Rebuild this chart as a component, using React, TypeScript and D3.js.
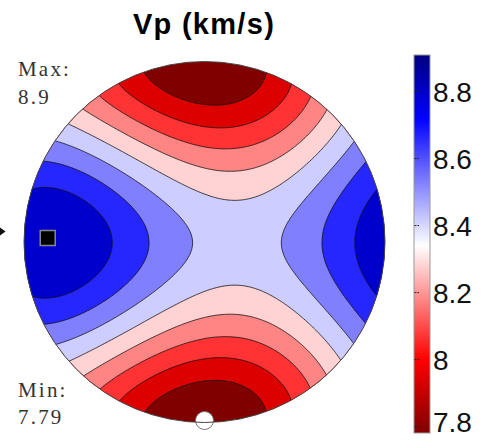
import React from "react";
import * as d3 from "d3";

// ---- data ----
const title = "Vp (km/s)";
// principal directions (polar angle from centre, azimuth in degrees) and velocities
const axisNames = ["max", "min", "mid"];
const axisTheta = [75.5, 90, 14.5];
const axisPhi = [180, 270, 0];
const axisVel = [8.9, 7.79, 8.48];
const maxValue = 8.9;
const minValue = 7.79;
// contour levels and band colours (lowest band first)
const levels = [7.913, 8.037, 8.16, 8.283, 8.407, 8.53, 8.653, 8.777];
const bandColors = ["#800000", "#dd0000", "#ff3333", "#ff8484", "#ffd3d3", "#cdcdff", "#8080ff", "#2626ff", "#0000cd"];
// colour bar
const cbStops = [7.781, 8.0, 8.34, 8.72, 8.909];
const cbColors = ["#800000", "#ff0000", "#ffffff", "#0000ff", "#000080"];
const cbTicks = [7.8, 8, 8.2, 8.4, 8.6, 8.8];

const W = 481, H = 440;
const cx = 204.5, cy = 242, R = 180.5;
const rad = Math.PI / 180;

function dir(theta: number, phi: number): number[] {
  const t = theta * rad, p = phi * rad;
  return [Math.sin(t) * Math.cos(p), Math.sin(t) * Math.sin(p), Math.cos(t)];
}
const axes = axisTheta.map((t, i) => dir(t, axisPhi[i]));

// equal-area projection: direction -> plane coords
function project(theta: number, phi: number): [number, number] {
  const r = Math.SQRT2 * Math.sin((theta * rad) / 2);
  return [cx + R * r * Math.cos(phi * rad), cy - R * r * Math.sin(phi * rad)];
}

function vel(px: number, py: number): number {
  let x = (px - cx) / R, y = -(py - cy) / R;
  let r = Math.hypot(x, y);
  if (r > 1) { x /= r; y /= r; r = 1; }
  const th = 2 * Math.asin(r / Math.SQRT2);
  const ph = Math.atan2(y, x);
  const n = [Math.sin(th) * Math.cos(ph), Math.sin(th) * Math.sin(ph), Math.cos(th)];
  let v = 0;
  axes.forEach((a, i) => {
    const d = n[0] * a[0] + n[1] * a[1] + n[2] * a[2];
    v += axisVel[i] * d * d;
  });
  return v;
}

export default function App() {
  const step = 1.5;
  const x0 = cx - R - 6, y0 = cy - R - 6;
  const nx = Math.ceil((2 * R + 12) / step) + 1;
  const ny = nx;
  const values: number[] = new Array(nx * ny);
  for (let j = 0; j < ny; j++)
    for (let i = 0; i < nx; i++) values[j * nx + i] = vel(x0 + i * step, y0 + j * step);

  const contours = d3.contours().size([nx, ny]).thresholds(levels)(values);
  const proj = d3.geoIdentity().scale(step).translate([x0, y0]);
  const path = d3.geoPath(proj as any);

  const cbScale = d3.scaleLinear().domain([cbStops[0], cbStops[cbStops.length - 1]]).range([433, 55]);
  const fmt = d3.format("~g");

  const maxPos = project(axisTheta[0], axisPhi[0]);
  const minPos = project(axisTheta[1], axisPhi[1]);

  return (
    <svg width={W} height={H} style={{ position: "absolute", left: 0, top: 0, background: "#fff" }}>
      <defs>
        <clipPath id="disk"><circle cx={cx} cy={cy} r={R} /></clipPath>
        <linearGradient id="cb" x1="0" y1="1" x2="0" y2="0">
          {cbStops.map((s, i) => (
            <stop key={i} offset={(s - cbStops[0]) / (cbStops[cbStops.length - 1] - cbStops[0])} stopColor={cbColors[i]} />
          ))}
        </linearGradient>
      </defs>
      <text x={204} y={33.5} textAnchor="middle" fontFamily="Liberation Sans, Arial, sans-serif" fontWeight="bold" fontSize={29} letterSpacing={1.3}>{title}</text>

      <g clipPath="url(#disk)">
        <circle cx={cx} cy={cy} r={R} fill={bandColors[0]} />
        {contours.map((c, i) => (
          <path key={i} d={path(c as any) || ""} fill={bandColors[i + 1]} stroke="#111" strokeWidth={0.8} strokeLinejoin="round" />
        ))}
      </g>
      <circle cx={minPos[0]} cy={minPos[1] - 2} r={9} fill="#fff" stroke="#777" strokeWidth={1} />
      <circle cx={cx} cy={cy} r={R} fill="none" stroke="#444" strokeWidth={1} />
      <rect x={maxPos[0] - 8} y={maxPos[1] - 11.5} width={15} height={15} fill="#000" stroke="#888" strokeWidth={1.5} />
      <polygon points="0,227.5 5.5,231.5 0,235.5" fill="#111" />

      <g fontFamily="Liberation Serif, Times New Roman, serif" fontSize={21} letterSpacing={2.2} fill="#333">
        <text x={18} y={76}>Max:</text>
        <text x={18} y={103.5}>{fmt(maxValue)}</text>
        <text x={18} y={397}>Min:</text>
        <text x={18} y={424}>{minValue}</text>
      </g>

      <rect x={414} y={55} width={16} height={378} fill="url(#cb)" stroke="#999" strokeWidth={1} />
      {cbTicks.map((t) => (
        <g key={t}>
          <line x1={414.5} x2={419} y1={cbScale(t)} y2={cbScale(t)} stroke="#222" strokeWidth={1} strokeDasharray="2,1" />
          <text x={433} y={Math.min(cbScale(t) + 10, 432)} fontFamily="Liberation Sans, Arial, sans-serif" fontSize={28} fill="#111">{fmt(t)}</text>
        </g>
      ))}
    </svg>
  );
}
